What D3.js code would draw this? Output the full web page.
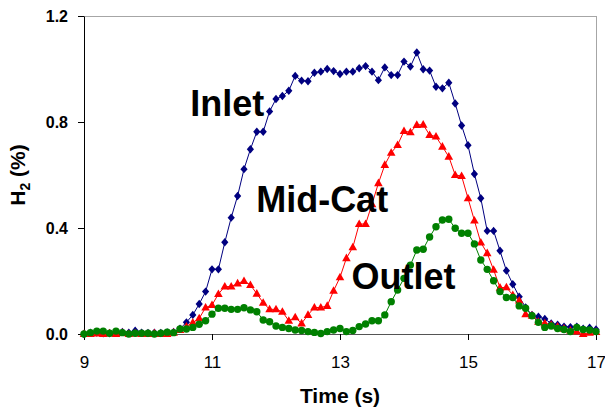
<!DOCTYPE html>
<html>
<head>
<meta charset="utf-8">
<script src="https://cdn.jsdelivr.net/npm/d3@7"></script>
<style>
  body { margin: 0; background: #fff; }
  svg { display: block; font-family: "Liberation Sans", Arial, sans-serif; }
</style>
</head>
<body>
<svg id="chart"></svg>
<script>
// Time stamps (s), one sample every 0.1 s
const time = [
  9.0, 9.1, 9.2, 9.3, 9.4, 9.5, 9.6, 9.7, 9.8, 9.9,
  10.0, 10.1, 10.2, 10.3, 10.4, 10.5, 10.6, 10.7, 10.8, 10.9,
  11.0, 11.1, 11.2, 11.3, 11.4, 11.5, 11.6, 11.7, 11.8, 11.9,
  12.0, 12.1, 12.2, 12.3, 12.4, 12.5, 12.6, 12.7, 12.8, 12.9,
  13.0, 13.1, 13.2, 13.3, 13.4, 13.5, 13.6, 13.7, 13.8, 13.9,
  14.0, 14.1, 14.2, 14.3, 14.4, 14.5, 14.6, 14.7, 14.8, 14.9,
  15.0, 15.1, 15.2, 15.3, 15.4, 15.5, 15.6, 15.7, 15.8, 15.9,
  16.0, 16.1, 16.2, 16.3, 16.4, 16.5, 16.6, 16.7, 16.8, 16.9,
  17.0
];

// H2 (%) readings
const inlet = [
  0.000, 0.005, 0.005, 0.003, 0.003, 0.005, 0.008, 0.005, 0.012, 0.005,
  0.004, 0.005, 0.004, 0.006, 0.008, 0.020, 0.044, 0.072, 0.113, 0.160,
  0.244, 0.244, 0.346, 0.439, 0.521, 0.622, 0.697, 0.763, 0.763, 0.840,
  0.887, 0.898, 0.918, 0.974, 0.956, 0.954, 0.986, 0.990, 1.000, 0.992,
  0.981, 0.990, 0.990, 1.003, 1.011, 0.990, 0.958, 1.006, 0.977, 0.977,
  1.028, 1.009, 1.062, 0.999, 0.994, 0.933, 0.927, 0.948, 0.870, 0.787,
  0.712, 0.604, 0.512, 0.389, 0.389, 0.314, 0.239, 0.188, 0.141, 0.100,
  0.072, 0.065, 0.057, 0.040, 0.035, 0.028, 0.026, 0.028, 0.020, 0.024,
  0.017
];

const midCat = [
  0.000, 0.000, 0.002, 0.000, 0.002, 0.000, 0.004, 0.000, 0.002, 0.000,
  0.000, 0.002, 0.000, 0.000, 0.005, 0.015, 0.028, 0.043, 0.059, 0.100,
  0.109, 0.151, 0.179, 0.179, 0.191, 0.200, 0.185, 0.152, 0.118, 0.093,
  0.093, 0.084, 0.050, 0.063, 0.040, 0.072, 0.100, 0.100, 0.106, 0.163,
  0.214, 0.286, 0.327, 0.415, 0.415, 0.490, 0.569, 0.638, 0.684, 0.713,
  0.766, 0.761, 0.789, 0.790, 0.751, 0.745, 0.707, 0.669, 0.600, 0.596,
  0.512, 0.428, 0.345, 0.305, 0.242, 0.175, 0.176, 0.147, 0.126, 0.075,
  0.069, 0.046, 0.040, 0.035, 0.028, 0.020, 0.013, 0.009, 0.000, 0.005,
  0.008
];

const outlet = [
  0.000, 0.005, 0.011, 0.011, 0.003, 0.011, 0.005, 0.000, 0.003, 0.003,
  0.003, 0.000, 0.003, 0.007, 0.005, 0.019, 0.019, 0.025, 0.037, 0.050,
  0.075, 0.097, 0.097, 0.093, 0.093, 0.099, 0.091, 0.084, 0.053, 0.046,
  0.030, 0.025, 0.021, 0.015, 0.013, 0.009, 0.006, 0.002, 0.009, 0.015,
  0.021, 0.009, 0.013, 0.028, 0.038, 0.050, 0.050, 0.072, 0.122, 0.166,
  0.210, 0.260, 0.317, 0.320, 0.366, 0.405, 0.430, 0.433, 0.399, 0.380,
  0.380, 0.340, 0.279, 0.244, 0.201, 0.160, 0.138, 0.138, 0.106, 0.097,
  0.069, 0.044, 0.025, 0.030, 0.021, 0.017, 0.009, 0.025, 0.017, 0.015,
  0.009
];

const xTicks = [9, 11, 13, 15, 17];
const yTicks = [0, 0.4, 0.8, 1.2];

// Series labels placed in data coordinates: [name, time, value]
const labels = [
  ["Inlet", 10.66, 0.823],
  ["Mid-Cat", 11.69, 0.462],
  ["Outlet", 13.18, 0.170]
];

const width = 605;
const height = 408;
const margin = { top: 16, right: 9, bottom: 74, left: 84 };
const innerWidth = width - margin.left - margin.right;
const innerHeight = height - margin.top - margin.bottom;

const svg = d3.select("#chart")
    .attr("width", width)
    .attr("height", height);

const g = svg.append("g")
    .attr("transform", `translate(${margin.left}, ${margin.top})`);

const x = d3.scaleLinear().domain([9, 17]).range([0, innerWidth]);
const y = d3.scaleLinear().domain([0, 1.2]).range([innerHeight, 0]);

// plot area border (top / right)
g.append("rect")
    .attr("x", 0.5)
    .attr("y", 0.5)
    .attr("width", innerWidth)
    .attr("height", innerHeight)
    .attr("fill", "none")
    .attr("stroke", "#a6a6a6")
    .attr("stroke-width", 1);

// axes
const xAxis = g.append("g")
    .attr("transform", `translate(0, ${innerHeight})`)
    .call(d3.axisBottom(x)
        .tickValues(xTicks)
        .tickFormat(d3.format("d"))
        .tickSize(6)
        .tickSizeOuter(0)
        .tickPadding(16));
xAxis.select(".domain").attr("stroke", "#555");
xAxis.selectAll(".tick line").attr("stroke", "#000");
xAxis.selectAll("text")
    .attr("fill", "#000")
    .style("font-size", "17px")
    .style("font-family", "Liberation Sans, Arial, sans-serif");

const yAxis = g.append("g")
    .call(d3.axisLeft(y)
        .tickValues(yTicks)
        .tickFormat(d3.format(".1f"))
        .tickSize(6)
        .tickSizeOuter(0)
        .tickPadding(10));
yAxis.select(".domain").attr("stroke", "#000");
yAxis.selectAll(".tick line").attr("stroke", "#000");
yAxis.selectAll("text")
    .attr("fill", "#000")
    .attr("dy", "0.34em")
    .style("font-size", "16px")
    .style("font-weight", "bold")
    .style("font-family", "Liberation Sans, Arial, sans-serif");

// axis titles
svg.append("text")
    .attr("x", margin.left + innerWidth / 2)
    .attr("y", 403)
    .attr("text-anchor", "middle")
    .style("font-size", "21px")
    .style("font-weight", "bold")
    .text("Time (s)");

const yTitle = svg.append("text")
    .attr("transform", `translate(25, ${margin.top + innerHeight / 2}) rotate(-90)`)
    .attr("text-anchor", "middle")
    .style("font-size", "21px")
    .style("font-weight", "bold");
yTitle.append("tspan").text("H");
yTitle.append("tspan").attr("dy", 5).style("font-size", "14px").text("2");
yTitle.append("tspan").attr("dy", -5).text(" (%)");

// series
const series = [
  { name: "Inlet", values: inlet, color: "#000080", marker: "diamond" },
  { name: "Mid-Cat", values: midCat, color: "#ff0000", marker: "triangle" },
  { name: "Outlet", values: outlet, color: "#008000", marker: "circle" }
];

const line = d3.line()
    .x(d => x(d[0]))
    .y(d => y(d[1]));

const markerPath = {
  diamond: "M0,-4.2L3.6,0L0,4.2L-3.6,0Z",
  triangle: "M0,-4.6L4.3,3L-4.3,3Z"
};

series.forEach(s => {
  const pts = time.map((t, i) => [t, s.values[i]]);
  const sg = g.append("g").attr("class", "series");

  sg.append("path")
      .datum(pts)
      .attr("fill", "none")
      .attr("stroke", s.color)
      .attr("stroke-width", 1)
      .attr("d", line);

  if (s.marker === "circle") {
    sg.selectAll(".pt")
      .data(pts)
      .enter()
      .append("circle")
      .attr("class", "pt")
      .attr("cx", d => x(d[0]))
      .attr("cy", d => y(d[1]))
      .attr("r", 3.7)
      .attr("fill", s.color);
  } else {
    sg.selectAll(".pt")
      .data(pts)
      .enter()
      .append("path")
      .attr("class", "pt")
      .attr("transform", d => `translate(${x(d[0])}, ${y(d[1])})`)
      .attr("d", markerPath[s.marker])
      .attr("fill", s.color);
  }
});

// in-plot series labels
g.selectAll(".series-label")
    .data(labels)
    .enter()
    .append("text")
    .attr("class", "series-label")
    .attr("x", d => x(d[1]))
    .attr("y", d => y(d[2]))
    .style("font-size", "36px")
    .style("font-weight", "bold")
    .attr("fill", "#000")
    .text(d => d[0]);
</script>
</body>
</html>
